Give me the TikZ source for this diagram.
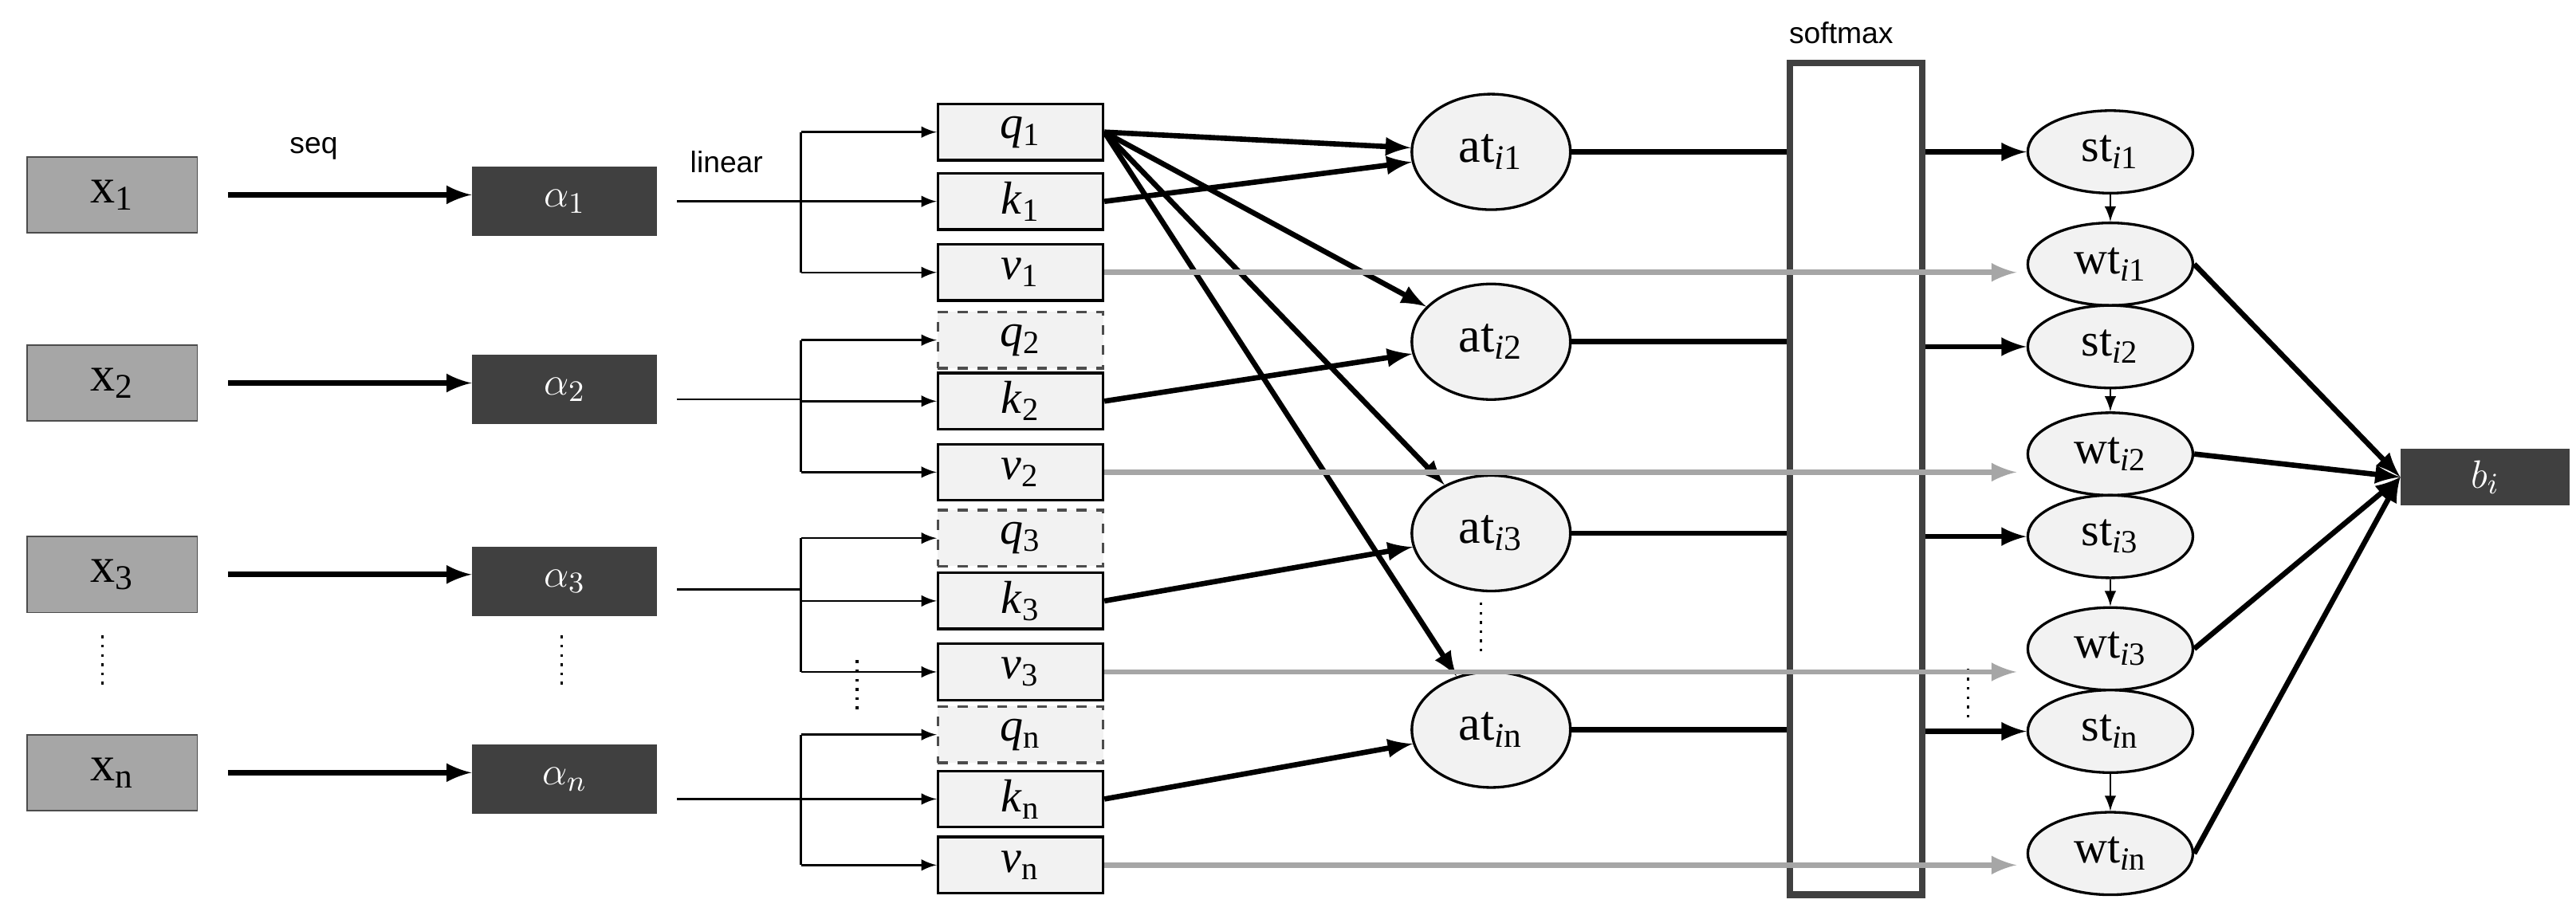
\documentclass[tikz,border=0pt]{standalone}
\usepackage{fontspec}
\setmainfont{Liberation Serif}
\newfontfamily\sansf{Liberation Sans}
\usetikzlibrary{shapes.geometric}
\newcommand{\sbx}[1]{\textsubscript{#1}}
\begin{document}
\begin{tikzpicture}[x=0.5pt,y=-0.5pt,
 xb/.style={draw=black!70,fill=black!35,minimum width=51.5pt,minimum height=23pt,inner sep=0,font=\fontsize{15}{15}\selectfont},
 ab/.style={fill=black!75,text=white,minimum width=56pt,minimum height=21pt,inner sep=0,font=\fontsize{13}{13}\selectfont},
 vb/.style={draw,thick,fill=black!5,minimum width=50pt,minimum height=17pt,inner sep=0,font=\fontsize{14}{14}\selectfont},
 db/.style={vb,dashed,draw=black!70},
 el/.style={draw,thick,fill=black!5,ellipse,minimum width=48pt,minimum height=35pt,inner sep=0,font=\fontsize{15}{15}\selectfont},
 es/.style={draw,thick,fill=black!5,ellipse,minimum width=50pt,minimum height=25pt,inner sep=0,font=\fontsize{14}{14}\selectfont},
 lab/.style={font=\sansf\fontsize{9}{9}\selectfont},
 thk/.style={line width=1.6pt,-latex},
 thn/.style={line width=0.6pt,black,-latex},
 gr/.style={line width=1.6pt,black!35,-latex},
 dots/.style={dotted,thick}]
\useasboundingbox (0,0) rectangle (1560,559);
\foreach \n/\y/\t in {1/118/1,2/232/2,3/348/3,n/468/n}{
 \node[xb] (x\n) at (68,\y) {x\sbx{\t}};
 \node[ab] (a\n) at (342,\y+4) {$\alpha_{\t}$};
 \coordinate (s\n) at (138,\y);
 \draw[thk] (s\n) -- (s\n-|a\n.west);
}
\node[lab] at (190,90) {seq};
\node[lab] at (440,98) {linear};
\draw[dots] (62,385) -- (62,415);
\draw[dots] (340,385) -- (340,415);
\draw[dots] (519,400) -- (519,430);
\node[vb] (q1) at (618,80) {\textit{q}\sbx{1}};
\node[vb] (k1) at (618,122) {\textit{k}\sbx{1}};
\node[vb] (v1) at (618,165) {\textit{v}\sbx{1}};
\node[db] (q2) at (618,206) {\textit{q}\sbx{2}};
\node[vb] (k2) at (618,243) {\textit{k}\sbx{2}};
\node[vb] (v2) at (618,286) {\textit{v}\sbx{2}};
\node[db] (q3) at (618,326) {\textit{q}\sbx{3}};
\node[vb] (k3) at (618,364) {\textit{k}\sbx{3}};
\node[vb] (v3) at (618,407) {\textit{v}\sbx{3}};
\node[db] (qn) at (618,445) {\textit{q}\sbx{n}};
\node[vb] (kn) at (618,484) {\textit{k}\sbx{n}};
\node[vb] (vn) at (618,524) {\textit{v}\sbx{n}};
\foreach \a/\q/\k/\v/\ly in {1/q1/k1/v1/122,2/q2/k2/v2/242,3/q3/k3/v3/357,n/qn/kn/vn/484}{
 \coordinate (l\a) at (410,\ly);
 \draw[line width=0.6pt,black] (l\a) -- (485,\ly);
 \draw[line width=0.6pt,black] (485,0|-\q) -- (485,0|-\v);
 \draw[thn] (485,0|-\q) -- (\q.west);
 \draw[thn] (485,0|-\k) -- (\k.west);
 \draw[thn] (485,0|-\v) -- (\v.west);
}
\node[el] (at1) at (903,92) {at\sbx{\textit{i}1}};
\node[el] (at2) at (903,207) {at\sbx{\textit{i}2}};
\node[el] (at3) at (903,323) {at\sbx{\textit{i}3}};
\node[el] (atn) at (903,442) {at\sbx{\textit{i}n}};
\draw[dots] (897,365) -- (897,395);
\node[draw=black!75,line width=2pt,minimum width=40pt,minimum height=252pt,inner sep=0] (sm) at (1124,290) {};
\node[lab] at (1115,20) {softmax};
\foreach \i/\s/\w in {1/92/160,2/210/275,3/325/393,n/443/517}{
 \node[es] (st\i) at (1278,\s) {st\sbx{\textit{i}\i}};
 \node[es] (wt\i) at (1278,\w) {wt\sbx{\textit{i}\i}};
 \draw[line width=1.6pt] (at\i.east) -- (sm.west|-at\i.east);
 \draw[thk] (sm.east|-st\i) -- (st\i.west);
 \draw[thn] (st\i) -- (wt\i);
}
\draw[dots] (1192,405) -- (1192,435);
\node[ab,minimum width=51pt,minimum height=17pt] (b) at (1505,289) {$b_i$};
\foreach \t in {at1,at2,at3,atn}{\draw[thk] (q1.east) -- (\t);}
\draw[thk] (k1.east) -- (at1);
\draw[thk] (k2.east) -- (at2);
\draw[thk] (k3.east) -- (at3);
\draw[thk] (kn.east) -- (atn);
\foreach \v/\w in {v1/wt1,v2/wt2,v3/wt3,vn/wtn}{
 \coordinate (g\v) at ([xshift=-3]\w.west|-\v.east);
 \draw[gr] (\v.east) -- (g\v);
}
\foreach \i in {1,2,3,n}{\draw[thk] (wt\i.east) -- (b.west);}
\end{tikzpicture}
\end{document}
